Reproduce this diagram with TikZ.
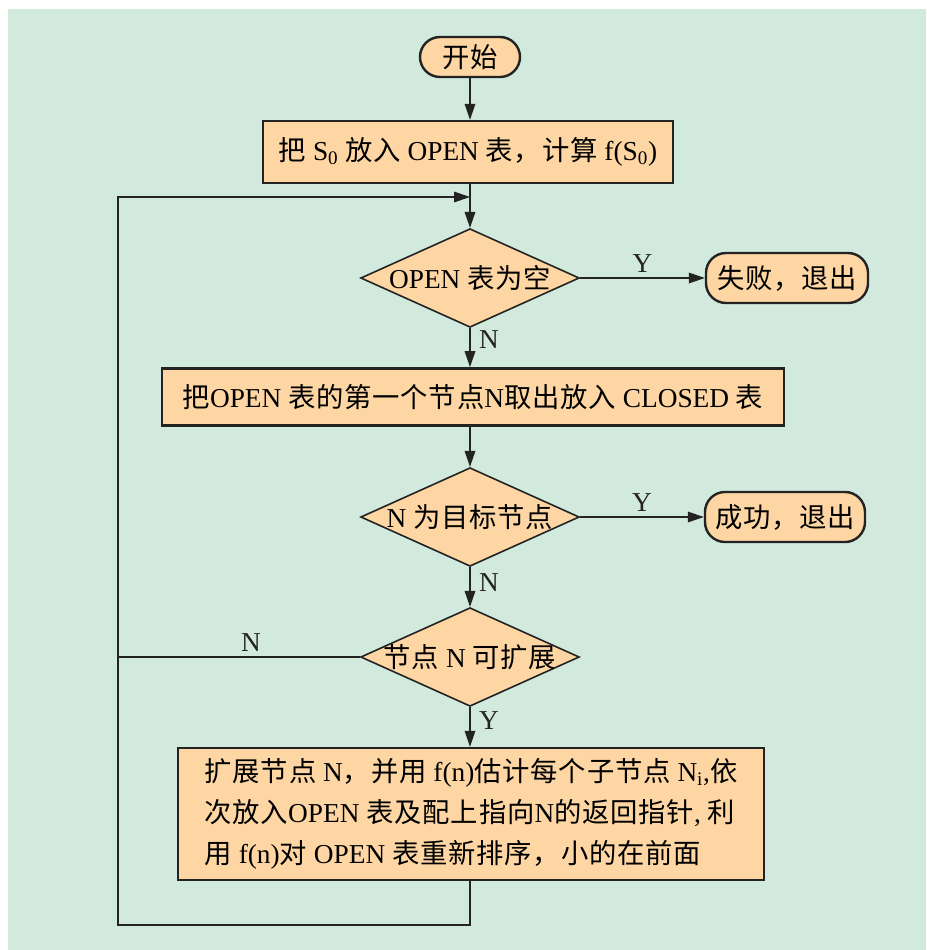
\documentclass[tikz,border=0pt]{standalone}
\usepackage{fontspec}
\setmainfont{Liberation Serif}
\newfontfamily\cjk[LetterSpace=3]{Noto Sans CJK SC}
\usetikzlibrary{arrows.meta,positioning,shapes.geometric}
\definecolor{fcbg}{RGB}{210,234,221}
\definecolor{fcfill}{RGB}{253,214,163}
\definecolor{fcline}{RGB}{35,35,35}
\newcommand{\zh}[1]{{\cjk #1}}

\begin{document}
\begin{tikzpicture}[x=0.75pt, y=-0.75pt,
  font=\fontsize{20.5}{24}\selectfont,
  procbox/.style={
    rectangle, draw=fcline, line width=1.8pt,
    fill=fcfill, inner sep=0pt, align=center
  },
  termbox/.style={
    rectangle, rounded corners=15pt, draw=fcline, line width=1.8pt,
    fill=fcfill, inner sep=0pt
  },
  decbox/.style={
    diamond, aspect=2.2, draw=fcline, line width=1.2pt,
    fill=fcfill, inner sep=-3pt,
    minimum width=164pt, minimum height=74pt
  },
  conn/.style={-{Triangle[length=12pt, width=8pt]}, line width=0.9pt, draw=fcline},
  lbl/.style={text=fcline}
]
\useasboundingbox (0,0) rectangle (926,950);
\fill[fcbg] (8,9) rectangle (926,950);

% main column
\node[termbox, minimum width=75pt, minimum height=30pt] (start) at (470,57) {\zh{开始}};
\node[procbox, minimum width=307.5pt, minimum height=46.5pt] (init) at (468,152)
  {\zh{把} S\textsubscript{0} \zh{放入} OPEN \zh{表，计算} f(S\textsubscript{0})};
\node[decbox] (empty) at (470,278) {OPEN \zh{表为空}};
\node[termbox, minimum width=121.5pt, minimum height=37.5pt] (fail) at (787,278) {\zh{失败，退出}};
\node[procbox, minimum width=466.5pt, minimum height=43pt] (pick) at (473,397)
  {\zh{把}OPEN \zh{表的第一个节点}N\zh{取出放入} CLOSED \zh{表}};
\node[decbox] (goal) at (470,517) {N \zh{为目标节点}};
\node[termbox, minimum width=120pt, minimum height=37.5pt] (succ) at (785,517) {\zh{成功，退出}};
\node[decbox] (expand) at (470,657) {\zh{节点} N \zh{可扩展}};
\node[procbox, minimum width=439.5pt, minimum height=99pt, align=left,
  font=\fontsize{20.5}{30.75}\selectfont] (grow) at (471,814)
  {\zh{扩展节点} N\zh{，并用} f(n)\zh{估计每个子节点} N\textsubscript{i},\zh{依}\\
   \zh{次放入}OPEN \zh{表及配上指向}N\zh{的返回指针}, \zh{利}\\
   \zh{用} f(n)\zh{对} OPEN \zh{表重新排序，小的在前面}};

% connectors
\draw[conn] (start) -- (start |- init.north);
\draw[conn] (start |- init.south) -- (empty);
\draw[conn] (empty) -- node[lbl, above] {Y} (fail);
\draw[conn] (empty) -- node[lbl, right=3pt, pos=0.3] {N} (empty |- pick.north);
\draw[conn] (empty |- pick.south) -- (goal);
\draw[conn] (goal) -- node[lbl, above] {Y} (succ);
\draw[conn] (goal) -- node[lbl, right=3pt, pos=0.4] {N} (expand);
\draw[conn] (expand) -- node[lbl, right=3pt, pos=0.35] {Y} (expand |- grow.north);

% loop back
\coordinate (loopin) at (470,197);
\coordinate (loopcorner) at (118,925);
\draw[conn] (expand |- grow.south) |- (loopcorner) |- (loopin);
\draw[line width=0.9pt, draw=fcline] (expand.west) -- node[lbl, above, pos=0.45] {N} (expand.west -| loopcorner);
\end{tikzpicture}
\end{document}
